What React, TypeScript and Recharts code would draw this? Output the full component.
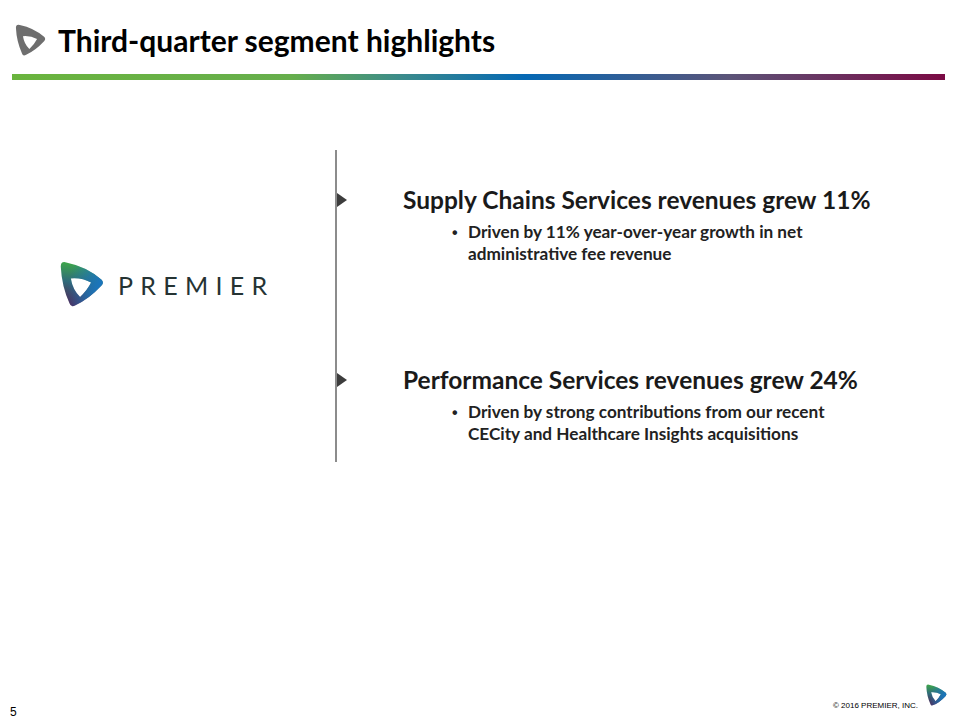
import { ScatterChart, Scatter, XAxis, YAxis, ReferenceLine, Customized } from 'recharts'

const headlines = [
  'Supply Chains Services revenues grew 11%',
  'Performance Services revenues grew 24%',
]

const bulletLines = [
  ['Driven by 11% year-over-year growth in net', 'administrative fee revenue'],
  ['Driven by strong contributions from our recent', 'CECity and Healthcare Insights acquisitions'],
]

const slots = [0, 1]

const title = 'Third-quarter segment highlights'
const brand = 'PREMIER'
const pageNumber = '5'
const copyright = '© 2016 PREMIER, INC.'

const data = headlines.map((h, i) => ({ x: 0, y: slots[i], headline: h, lines: bulletLines[i] }))

const FONT = "Lato, 'Open Sans', sans-serif"
const ARIAL = "'Liberation Sans', Arial, sans-serif"

// logo drawn in a 100x100 box
const LOGO_OUTER =
  'M 6 12 Q 6 0 18 3 Q 62 12 94 40 Q 101 47 94 54 Q 66 84 38 96 Q 28 102 25 92 Q 8 55 6 12 Z'
const LOGO_HOLE = 'M 28 38 Q 52 36 72 47 Q 63 65 48 78 Q 32 63 28 38 Z'

function Logo({ x, y, size, fill }: { x: number; y: number; size: number; fill: string }) {
  const s = size / 100
  return (
    <path
      transform={`translate(${x},${y}) scale(${s})`}
      d={`${LOGO_OUTER} ${LOGO_HOLE}`}
      fillRule="evenodd"
      fill={fill}
    />
  )
}

function Decor() {
  return (
    <g>
      <defs>
        <linearGradient id="bar" x1="0" y1="0" x2="1" y2="0">
          <stop offset="0" stopColor="#6ab43e" />
          <stop offset="0.3" stopColor="#66ae4c" />
          <stop offset="0.42" stopColor="#3a8a8c" />
          <stop offset="0.55" stopColor="#0568b4" />
          <stop offset="0.77" stopColor="#5c5478" />
          <stop offset="1" stopColor="#7b0a44" />
        </linearGradient>
        <linearGradient id="logoBase" x1="0.3" y1="0" x2="0.2" y2="1">
          <stop offset="0" stopColor="#3fa948" />
          <stop offset="0.45" stopColor="#2f6a7a" />
          <stop offset="1" stopColor="#5a1846" />
        </linearGradient>
        <linearGradient id="logoBlue" x1="0.3" y1="0" x2="1" y2="0.2">
          <stop offset="0" stopColor="#1b75bb" stopOpacity="0" />
          <stop offset="1" stopColor="#1b75bb" stopOpacity="1" />
        </linearGradient>
      </defs>
      <Logo x={14} y={24} size={32} fill="#6e6e6e" />
      <text x={58} y={52} fontFamily={FONT} fontWeight={700} fontSize={30} fill="#000">
        {title}
      </text>
      <rect x={12} y={74} width={933} height={6} fill="url(#bar)" />

      <Logo x={58} y={261} size={46} fill="url(#logoBase)" />
      <Logo x={58} y={261} size={46} fill="url(#logoBlue)" />
      <text x={118} y={295} fontFamily={FONT} fontWeight={400} fontSize={25} letterSpacing={7.3} fill="#253333">
        {brand}
      </text>

      <text x={10} y={716} fontFamily={ARIAL} fontSize={12} fill="#000">
        {pageNumber}
      </text>
      <text x={918} y={708} textAnchor="end" fontFamily={ARIAL} fontSize={8} fill="#000">
        {copyright}
      </text>
      <Logo x={925} y={684} size={22} fill="url(#logoBase)" />
      <Logo x={925} y={684} size={22} fill="url(#logoBlue)" />
    </g>
  )
}

function Highlight(props: any) {
  const { cx, cy, payload } = props
  return (
    <g>
      <path d={`M ${cx + 1} ${cy - 7} L ${cx + 11} ${cy} L ${cx + 1} ${cy + 7} Z`} fill="#3d3d3d" />
      <text x={cx + 67} y={cy + 9} fontFamily={FONT} fontWeight={700} fontSize={24.5} fill="#1a1a1a">
        {payload.headline}
      </text>
      {payload.lines.map((line: string, i: number) => (
        <g key={i}>
          {i === 0 && (
            <text x={cx + 116} y={cy + 38} fontFamily={ARIAL} fontWeight={700} fontSize={16} fill="#222">
              •
            </text>
          )}
          <text x={cx + 132} y={cy + 38 + i * 22} fontFamily={FONT} fontWeight={700} fontSize={17.2} fill="#222">
            {line}
          </text>
        </g>
      ))}
    </g>
  )
}

export default function App() {
  return (
    <div style={{ position: 'absolute', left: 0, top: 0, width: 960, height: 720, background: '#fff' }}>
      <ScatterChart width={960} height={720} margin={{ top: 200, right: 24, bottom: 340, left: 336 }}>
        <XAxis type="number" dataKey="x" domain={[0, 1]} hide />
        <YAxis type="number" dataKey="y" domain={[0, 1]} reversed hide />
        <Customized component={Decor} />
        <ReferenceLine
          segment={[{ x: 0, y: -0.278 }, { x: 0, y: 1.456 }]}
          stroke="#8c8c8c"
          strokeWidth={2}
          ifOverflow="visible"
        />
        <Scatter data={data} shape={<Highlight />} isAnimationActive={false} />
      </ScatterChart>
    </div>
  )
}
